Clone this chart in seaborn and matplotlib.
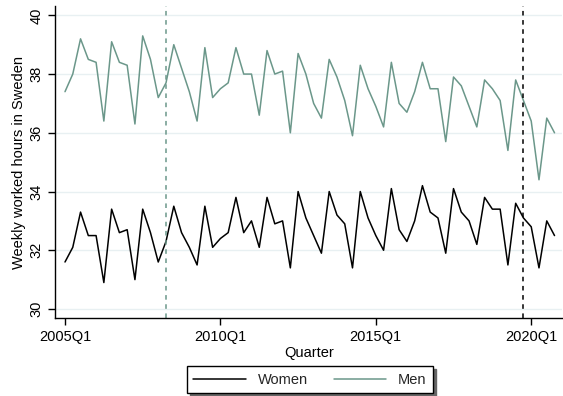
import numpy as np
import pandas as pd
import matplotlib
matplotlib.use("Agg")
import matplotlib.pyplot as plt
import seaborn as sns

# Quarterly data, 2005Q1 - 2020Q4
quarters = [f"{y}Q{q}" for y in range(2005, 2021) for q in range(1, 5)]

women = [31.6, 32.1, 33.3, 32.5, 32.5, 30.9, 33.4, 32.6, 32.7, 31.0,
         33.4, 32.6, 31.6, 32.3, 33.5, 32.6, 32.1, 31.5, 33.5, 32.1,
         32.4, 32.6, 33.8, 32.6, 33.0, 32.1, 33.8, 32.9, 33.0, 31.4,
         34.0, 33.1, 32.5, 31.9, 34.0, 33.2, 32.9, 31.4, 34.0, 33.1,
         32.5, 32.0, 34.1, 32.7, 32.3, 33.0, 34.2, 33.3, 33.1, 31.9,
         34.1, 33.3, 33.0, 32.2, 33.8, 33.4, 33.4, 31.5, 33.6, 33.1,
         32.8, 31.4, 33.0, 32.5]

men = [37.4, 38.0, 39.2, 38.5, 38.4, 36.4, 39.1, 38.4, 38.3, 36.3,
       39.3, 38.5, 37.2, 37.7, 39.0, 38.2, 37.4, 36.4, 38.9, 37.2,
       37.5, 37.7, 38.9, 38.0, 38.0, 36.6, 38.8, 38.0, 38.1, 36.0,
       38.7, 38.0, 37.0, 36.5, 38.5, 37.9, 37.1, 35.9, 38.3, 37.5,
       36.9, 36.2, 38.4, 37.0, 36.7, 37.4, 38.4, 37.5, 37.5, 35.7,
       37.9, 37.6, 36.9, 36.2, 37.8, 37.5, 37.1, 35.4, 37.8, 37.1,
       36.4, 34.4, 36.5, 36.0]

tick_quarters = ["2005Q1", "2010Q1", "2015Q1", "2020Q1"]
vline_green = "2008Q2"
vline_black = "2019Q4"

green = "#6b978a"
grid_col = "#e8f0f2"
fs = 10.5

df = pd.DataFrame({
    "t": list(range(len(quarters))) * 2,
    "hours": women + men,
    "sex": ["Women"] * len(women) + ["Men"] * len(men),
})

sns.set_theme(style="white")
plt.rcParams["font.family"] = ["Liberation Sans", "DejaVu Sans"]

fig = plt.figure(figsize=(5.63, 3.96), dpi=100)
ax = fig.add_axes([0.0982, 0.196, 0.900, 0.789])

for y in [30, 32, 34, 36, 38, 40]:
    ax.axhline(y, color=grid_col, lw=1.0, zorder=0)

sns.lineplot(data=df, x="t", y="hours", hue="sex",
             palette={"Women": "black", "Men": green},
             linewidth=1.1, ax=ax, legend=False)

ax.axvline(quarters.index(vline_green), color=green, ls=(0, (3, 3)), lw=1.1)
ax.axvline(quarters.index(vline_black), color="black", ls=(0, (3, 3)), lw=1.1)

ax.set_xlim(-1.25, 63.96)
ax.set_ylim(29.68, 40.32)
ax.set_xticks([quarters.index(q) for q in tick_quarters])
ax.set_xticklabels(tick_quarters)
ax.set_yticks([30, 32, 34, 36, 38, 40])
ax.set_yticklabels(["30", "32", "34", "36", "38", "40"], rotation=90, va="center")
ax.tick_params(axis="both", direction="out", length=5, width=1, color="black",
               labelsize=fs, labelcolor="black", bottom=True, left=True)

for s in ["top", "right"]:
    ax.spines[s].set_visible(False)
for s in ["left", "bottom"]:
    ax.spines[s].set_color("black")
    ax.spines[s].set_linewidth(1.0)

ax.set_xlabel("Quarter", fontsize=fs, color="black", labelpad=1)
ax.set_ylabel("Weekly worked hours in Sweden", fontsize=fs, color="black")
ax.yaxis.set_label_coords(-0.058, 0.5)

handles = [plt.Line2D([], [], color="black", lw=1.1),
           plt.Line2D([], [], color=green, lw=1.1)]
leg = fig.legend(handles, ["Women", "Men"], loc="center",
                 bbox_to_anchor=(0.5506, 0.041), ncol=2, frameon=True,
                 fancybox=False, shadow={"color": "#666666", "alpha": 1.0},
                 edgecolor="black", handlelength=3.6, columnspacing=1.8,
                 handletextpad=0.8, fontsize=fs, borderpad=0.45)
leg.get_frame().set_linewidth(1.0)

fig.savefig("out.png", dpi=100)
